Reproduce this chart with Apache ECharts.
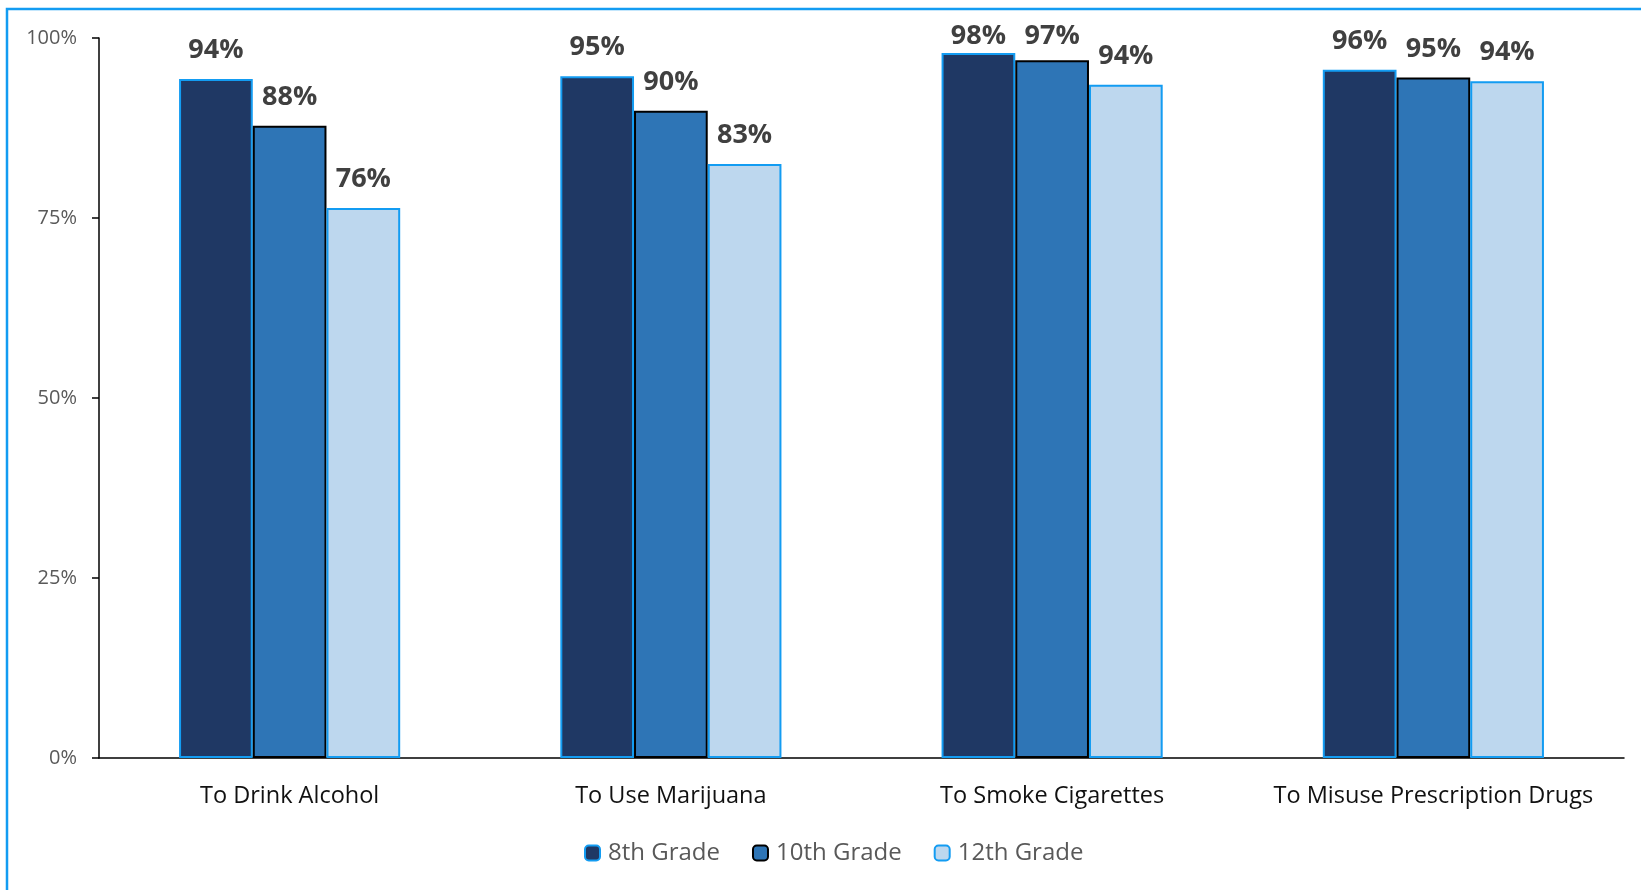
<!DOCTYPE html>
<html>
<head>
<meta charset="utf-8">
<script src="https://cdn.jsdelivr.net/npm/echarts@6/dist/echarts.min.js"></script>
<style>
html,body{margin:0;padding:0;background:#fff;}
#chart{width:1641px;height:890px;}
</style>
</head>
<body>
<div id="chart"></div>
<script>
const categories = ['To Drink Alcohol', 'To Use Marijuana', 'To Smoke Cigarettes', 'To Misuse Prescription Drugs'];
const seriesNames = ['8th Grade', '10th Grade', '12th Grade'];
const grade8 = [94.3, 94.7, 97.9, 95.6];
const grade10 = [87.8, 89.9, 96.9, 94.5];
const grade12 = [76.4, 82.5, 93.5, 94.0];
const yTicks = [0, 25, 50, 75, 100];

const fills = ['#1F3864', '#2E75B6', '#BDD7EE'];
const borders = ['#139CF2', '#000000', '#139CF2'];
const data = [grade8, grade10, grade12];

const chart = echarts.init(document.getElementById('chart'), null, {renderer: 'canvas'});
const option = {
  animation: false,
  backgroundColor: '#ffffff',
  graphic: [{
    type: 'rect',
    silent: true,
    shape: {x: 7, y: 9, width: 1700, height: 1000},
    style: {fill: 'none', stroke: '#139CF2', lineWidth: 2.5},
    z: -10
  }],
  grid: {left: 99, right: 17, top: 38, bottom: 132, containLabel: false},
  legend: {
    left: 584,
    top: 841,
    padding: 0,
    itemWidth: 15,
    itemHeight: 15,
    itemGap: 32,
    textStyle: {fontFamily: 'Open Sans', fontSize: 24, color: '#595959', padding: [0, 0, 0, 3]},
    data: seriesNames
  },
  xAxis: {
    type: 'category',
    data: categories,
    axisLine: {show: true, lineStyle: {color: '#000', width: 1.5}},
    axisTick: {show: false},
    axisLabel: {interval: 0, fontFamily: 'Open Sans', fontSize: 23.5, color: '#111', margin: 26}
  },
  yAxis: {
    type: 'value',
    min: 0, max: 100, interval: 25,
    splitLine: {show: false},
    axisLine: {show: true, lineStyle: {color: '#000', width: 1.5}},
    axisTick: {show: true, length: 7, lineStyle: {color: '#000', width: 1.5}},
    axisLabel: {
      fontFamily: 'Open Sans', fontSize: 20, color: '#595959', margin: 22,
      formatter: function (v) { return yTicks.indexOf(v) >= 0 ? v + '%' : ''; }
    }
  },
  series: seriesNames.map(function (name, i) {
    return {
      name: name,
      type: 'bar',
      data: data[i],
      barGap: '0%',
      barCategoryGap: '42%',
      itemStyle: {color: fills[i], borderColor: borders[i], borderWidth: 2},
      label: {
        show: true,
        position: 'top',
        distance: 15,
        fontFamily: 'Open Sans',
        fontWeight: 'bold',
        fontSize: 27,
        color: '#404040',
        formatter: function (p) { return Math.round(p.value) + '%'; }
      }
    };
  })
};
chart.setOption(option);

// Labels near the top of the plot are pushed down so they stay inside the chart (as in the source).
const labelTopLimit = 50;
chart.setOption({
  series: seriesNames.map(function (name, i) {
    return {
      data: data[i].map(function (v, j) {
        const barTop = chart.convertToPixel({gridIndex: 0}, [j, v])[1];
        const d = Math.min(15, barTop - labelTopLimit);
        return {value: v, label: {distance: d}};
      })
    };
  })
});
</script>
</body>
</html>
